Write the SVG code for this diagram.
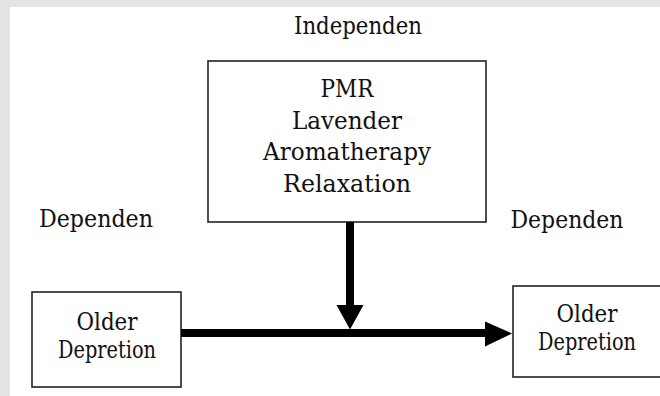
<svg xmlns="http://www.w3.org/2000/svg" width="660" height="396" viewBox="0 0 660 396">
<defs>
<style>
text{font-family:'DejaVu Serif','Liberation Serif','Times New Roman',serif;font-size:24px;fill:#111;text-anchor:middle}
.box{fill:#fff;stroke:#222;stroke-width:1.6}
.shaft{stroke:#000;stroke-width:8;fill:none}
.head{fill:#000}
</style>
</defs>
<rect x="0" y="0" width="660" height="396" fill="#e4e4e4"/>
<rect x="10" y="7" width="650" height="389" fill="#fff"/>
<g id="label-independen"><text x="358" y="34" textLength="128" lengthAdjust="spacingAndGlyphs">Independen</text></g>
<g id="label-dependen-left"><text x="96" y="227" textLength="114" lengthAdjust="spacingAndGlyphs">Dependen</text></g>
<g id="label-dependen-right"><text x="567" y="228" textLength="113" lengthAdjust="spacingAndGlyphs">Dependen</text></g>
<g id="node-intervention">
<rect class="box" x="208" y="61" width="278" height="161"/>
<text x="347" y="97" textLength="53" lengthAdjust="spacingAndGlyphs">PMR</text>
<text x="347" y="129" textLength="110" lengthAdjust="spacingAndGlyphs">Lavender</text>
<text x="347" y="160" textLength="168" lengthAdjust="spacingAndGlyphs">Aromatherapy</text>
<text x="347" y="192" textLength="128" lengthAdjust="spacingAndGlyphs">Relaxation</text>
</g>
<g id="node-older-left">
<rect class="box" x="32" y="292" width="149" height="95"/>
<text x="107" y="330" textLength="61" lengthAdjust="spacingAndGlyphs">Older</text>
<text x="107" y="358" textLength="98" lengthAdjust="spacingAndGlyphs">Depretion</text>
</g>
<g id="node-older-right">
<rect class="box" x="513" y="286" width="150" height="91"/>
<text x="587" y="322" textLength="61" lengthAdjust="spacingAndGlyphs">Older</text>
<text x="587" y="350" textLength="98" lengthAdjust="spacingAndGlyphs">Depretion</text>
</g>
<g id="connectors">
<line class="shaft" x1="181" y1="333" x2="487" y2="333"/>
<polygon class="head" points="485,321.5 512,333.5 485,346.5"/>
<line class="shaft" x1="350" y1="222" x2="350" y2="307"/>
<polygon class="head" points="336.5,305 363.5,305 350,329.5"/>
</g>
</svg>
